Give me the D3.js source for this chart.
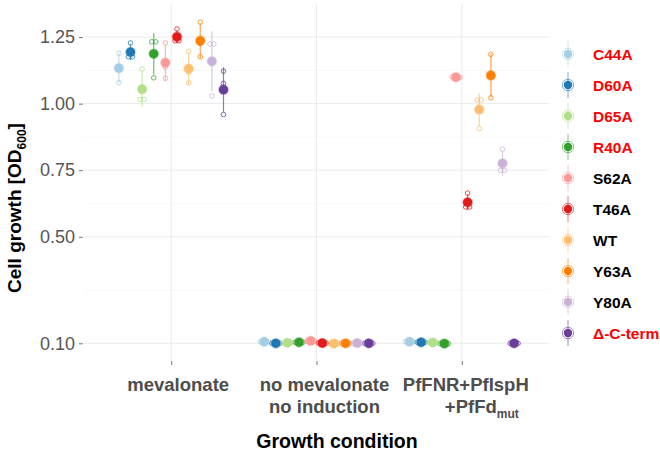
<!DOCTYPE html>
<html><head><meta charset="utf-8">
<script src="https://cdn.jsdelivr.net/npm/d3@7"></script>
<style>
body{margin:0;background:#fff;}
text{font-family:"Liberation Sans",Arial,Helvetica,sans-serif;}
</style></head>
<body><svg id="chart" width="660" height="456"></svg>
<script>
// ---- data ----
const conditions = ["mevalonate", "no mevalonate", "PfFNR"];
const series = ["C44A","D60A","D65A","R40A","S62A","T46A","WT","Y63A","Y80A","Δ-C-term"];
const seriesColors = ["#a6cee3","#1f78b4","#b2df8a","#33a02c","#fb9a99","#e31a1c","#fdbf6f","#ff7f00","#cab2d6","#6a3d9a"];
const labelRed = [true,true,true,true,false,false,false,false,false,true];
const yTicks = [0.10, 0.50, 0.75, 1.00, 1.25];
const yMinor = [0.30, 0.625, 0.875, 1.125];
// replicate measurements (3 per mutant) for each condition
const repMevalonate = [
  [1.189, 1.131, 1.079],
  [1.228, 1.176, 1.176],
  [1.130, 1.016, 1.016],
  [1.232, 1.232, 1.097],
  [1.228, 1.137, 1.095],
  [1.280, 1.236, 1.236],
  [1.196, 1.119, 1.078],
  [1.306, 1.226, 1.176],
  [1.224, 1.224, 1.029],
  [1.122, 1.076, 0.959]
];
const repNoMevalonate = [
  [0.106, 0.106, 0.106],
  [0.100, 0.100, 0.100],
  [0.102, 0.102, 0.102],
  [0.104, 0.104, 0.104],
  [0.109, 0.109, 0.109],
  [0.101, 0.101, 0.101],
  [0.099, 0.099, 0.099],
  [0.100, 0.100, 0.100],
  [0.101, 0.101, 0.101],
  [0.100, 0.100, 0.100]
];
const repPfFNR = [
  [0.106, 0.106, 0.106],
  [0.104, 0.104, 0.104],
  [0.103, 0.103, 0.103],
  [0.099, 0.099, 0.099],
  [1.100, 1.099, 1.098],
  [0.664, 0.612, 0.612],
  [1.014, 1.014, 0.906],
  [1.185, 1.111, 1.022],
  [0.829, 0.749, 0.749],
  [0.100, 0.100, 0.100]
];
const replicates = [repMevalonate, repNoMevalonate, repPfFNR];

// ---- layout ----
const svg = d3.select("#chart");
const P = {left: 84, right: 549, top: 4, bottom: 360};
const x = d3.scalePoint().domain(conditions).range([P.left, P.right]).padding(0.6);
const step = x.step();
const dodge = d3.scaleBand().domain(series).range([-0.4*step, 0.4*step]);
const y = d3.scaleLinear().domain([0.0373, 1.374]).range([P.bottom, P.top]);

const grid = svg.append("g");
grid.selectAll(".ymin").data(yMinor).join("line")
  .attr("x1", P.left).attr("x2", P.right).attr("y1", d=>y(d)).attr("y2", d=>y(d))
  .attr("stroke", "#f3f3f3").attr("stroke-width", 0.6);
grid.selectAll(".ymaj").data(yTicks).join("line")
  .attr("x1", P.left).attr("x2", P.right).attr("y1", d=>y(d)).attr("y2", d=>y(d))
  .attr("stroke", "#ebebeb").attr("stroke-width", 1);
grid.selectAll(".xmaj").data(conditions).join("line")
  .attr("x1", d=>x(d)).attr("x2", d=>x(d)).attr("y1", P.top).attr("y2", P.bottom)
  .attr("stroke", "#ebebeb").attr("stroke-width", 1);

// axes
const yAxis = d3.axisLeft(y).tickValues(yTicks).tickFormat(d3.format(".2f")).tickSize(4).tickPadding(4);
const gy = svg.append("g").attr("transform", `translate(${P.left-1},0)`).call(yAxis);
gy.select(".domain").remove();
gy.selectAll("line").attr("stroke", "#555").attr("stroke-width", 0.8);
gy.selectAll("text").attr("fill", "#555").attr("font-size", 18);

const xAxis = d3.axisBottom(x).tickSize(4).tickFormat("");
const gx = svg.append("g").attr("transform", `translate(0,${P.bottom+1})`).call(xAxis);
gx.select(".domain").remove();
gx.selectAll("line").attr("stroke", "#555").attr("stroke-width", 0.8);

// x tick labels
const xl = svg.append("g").attr("font-weight", "bold").attr("font-size", 18.5).attr("fill", "#4d4d4d").attr("text-anchor", "middle");
xl.append("text").attr("x", x("mevalonate")+7).attr("y", 391).text("mevalonate");
xl.append("text").attr("x", x("no mevalonate")+8).attr("y", 391).text("no mevalonate");
xl.append("text").attr("x", x("no mevalonate")+8).attr("y", 413).text("no induction");
xl.append("text").attr("x", x("PfFNR")+4).attr("y", 391).text("PfFNR+PfIspH");
const t3 = xl.append("text").attr("x", x("PfFNR")+20).attr("y", 413);
t3.append("tspan").text("+PfFd");
t3.append("tspan").attr("font-size", 12).attr("dy", 5).text("mut");

// axis titles
svg.append("text").attr("x", 337).attr("y", 448).attr("text-anchor", "middle")
  .attr("font-weight", "bold").attr("font-size", 19.5).attr("fill", "#000").text("Growth condition");
const yt = svg.append("text").attr("transform", `translate(21,${(P.top+P.bottom)/2 + 26}) rotate(-90)`)
  .attr("text-anchor", "middle").attr("font-weight", "bold").attr("font-size", 19).attr("fill", "#000");
yt.append("tspan").text("Cell growth [OD");
yt.append("tspan").attr("font-size", 12).attr("dy", 5).text("600");
yt.append("tspan").attr("dy", -5).text("]");

// ---- marks ----
const stats = [];
conditions.forEach((c, ci) => {
  series.forEach((s, si) => {
    const vals = replicates[ci][si];
    const mean = d3.mean(vals), sd = d3.deviation(vals);
    const cx = x(c) + dodge(s) + dodge.bandwidth()/2;
    // horizontal spread of coincident replicates
    const reps = [];
    const used = vals.map(() => false);
    vals.forEach((v, i) => {
      if (used[i]) return;
      const cluster = vals.map((w, j) => j).filter(j => !used[j] && Math.abs(vals[j]-v) < 0.004);
      cluster.forEach((j, k) => { used[j] = true; reps.push({v: vals[j], dx: (k-(cluster.length-1)/2)*4}); });
    });
    stats.push({c, s, si, mean, sd, cx, reps});
  });
});

const marks = svg.append("g");
marks.selectAll(".rng").data(stats).join("line")
  .attr("x1", d=>d.cx).attr("x2", d=>d.cx)
  .attr("y1", d=>y(d.mean-d.sd)).attr("y2", d=>y(d.mean+d.sd))
  .attr("stroke", d=>seriesColors[d.si]).attr("stroke-opacity", 0.7).attr("stroke-width", 1.2);
stats.forEach(d => {
  marks.selectAll(null).data(d.reps).join("circle")
    .attr("cx", r=>d.cx + r.dx).attr("cy", r=>y(r.v)).attr("r", 2.3)
    .attr("fill", "none").attr("stroke", seriesColors[d.si]).attr("stroke-opacity", 0.75).attr("stroke-width", 1);
});
marks.selectAll(".mean").data(stats).join("circle")
  .attr("cx", d=>d.cx).attr("cy", d=>y(d.mean)).attr("r", 4.6)
  .attr("fill", d=>seriesColors[d.si]).attr("stroke", d=>seriesColors[d.si])
  .attr("stroke-opacity", 0.35).attr("stroke-width", 1.6);

// ---- legend ----
const ly = d3.scalePoint().domain(series).range([54, 333]);
const lg = svg.append("g");
const items = lg.selectAll("g").data(series).join("g").attr("transform", d=>`translate(568,${ly(d)})`);
items.append("line").attr("y1", -13).attr("y2", 13).attr("stroke", (d,i)=>seriesColors[i]).attr("stroke-opacity", 0.6).attr("stroke-width", 1);
items.append("circle").attr("r", 5.7).attr("fill", "none").attr("stroke", (d,i)=>seriesColors[i]).attr("stroke-opacity", 0.6).attr("stroke-width", 1);
items.append("circle").attr("r", 4.2).attr("fill", (d,i)=>seriesColors[i]);
items.append("text").attr("x", 25).attr("y", 6).attr("font-weight", "bold").attr("font-size", 15.5)
  .attr("fill", (d,i)=>labelRed[i] ? "#ff0000" : "#000").text(d=>d);
</script></body></html>
